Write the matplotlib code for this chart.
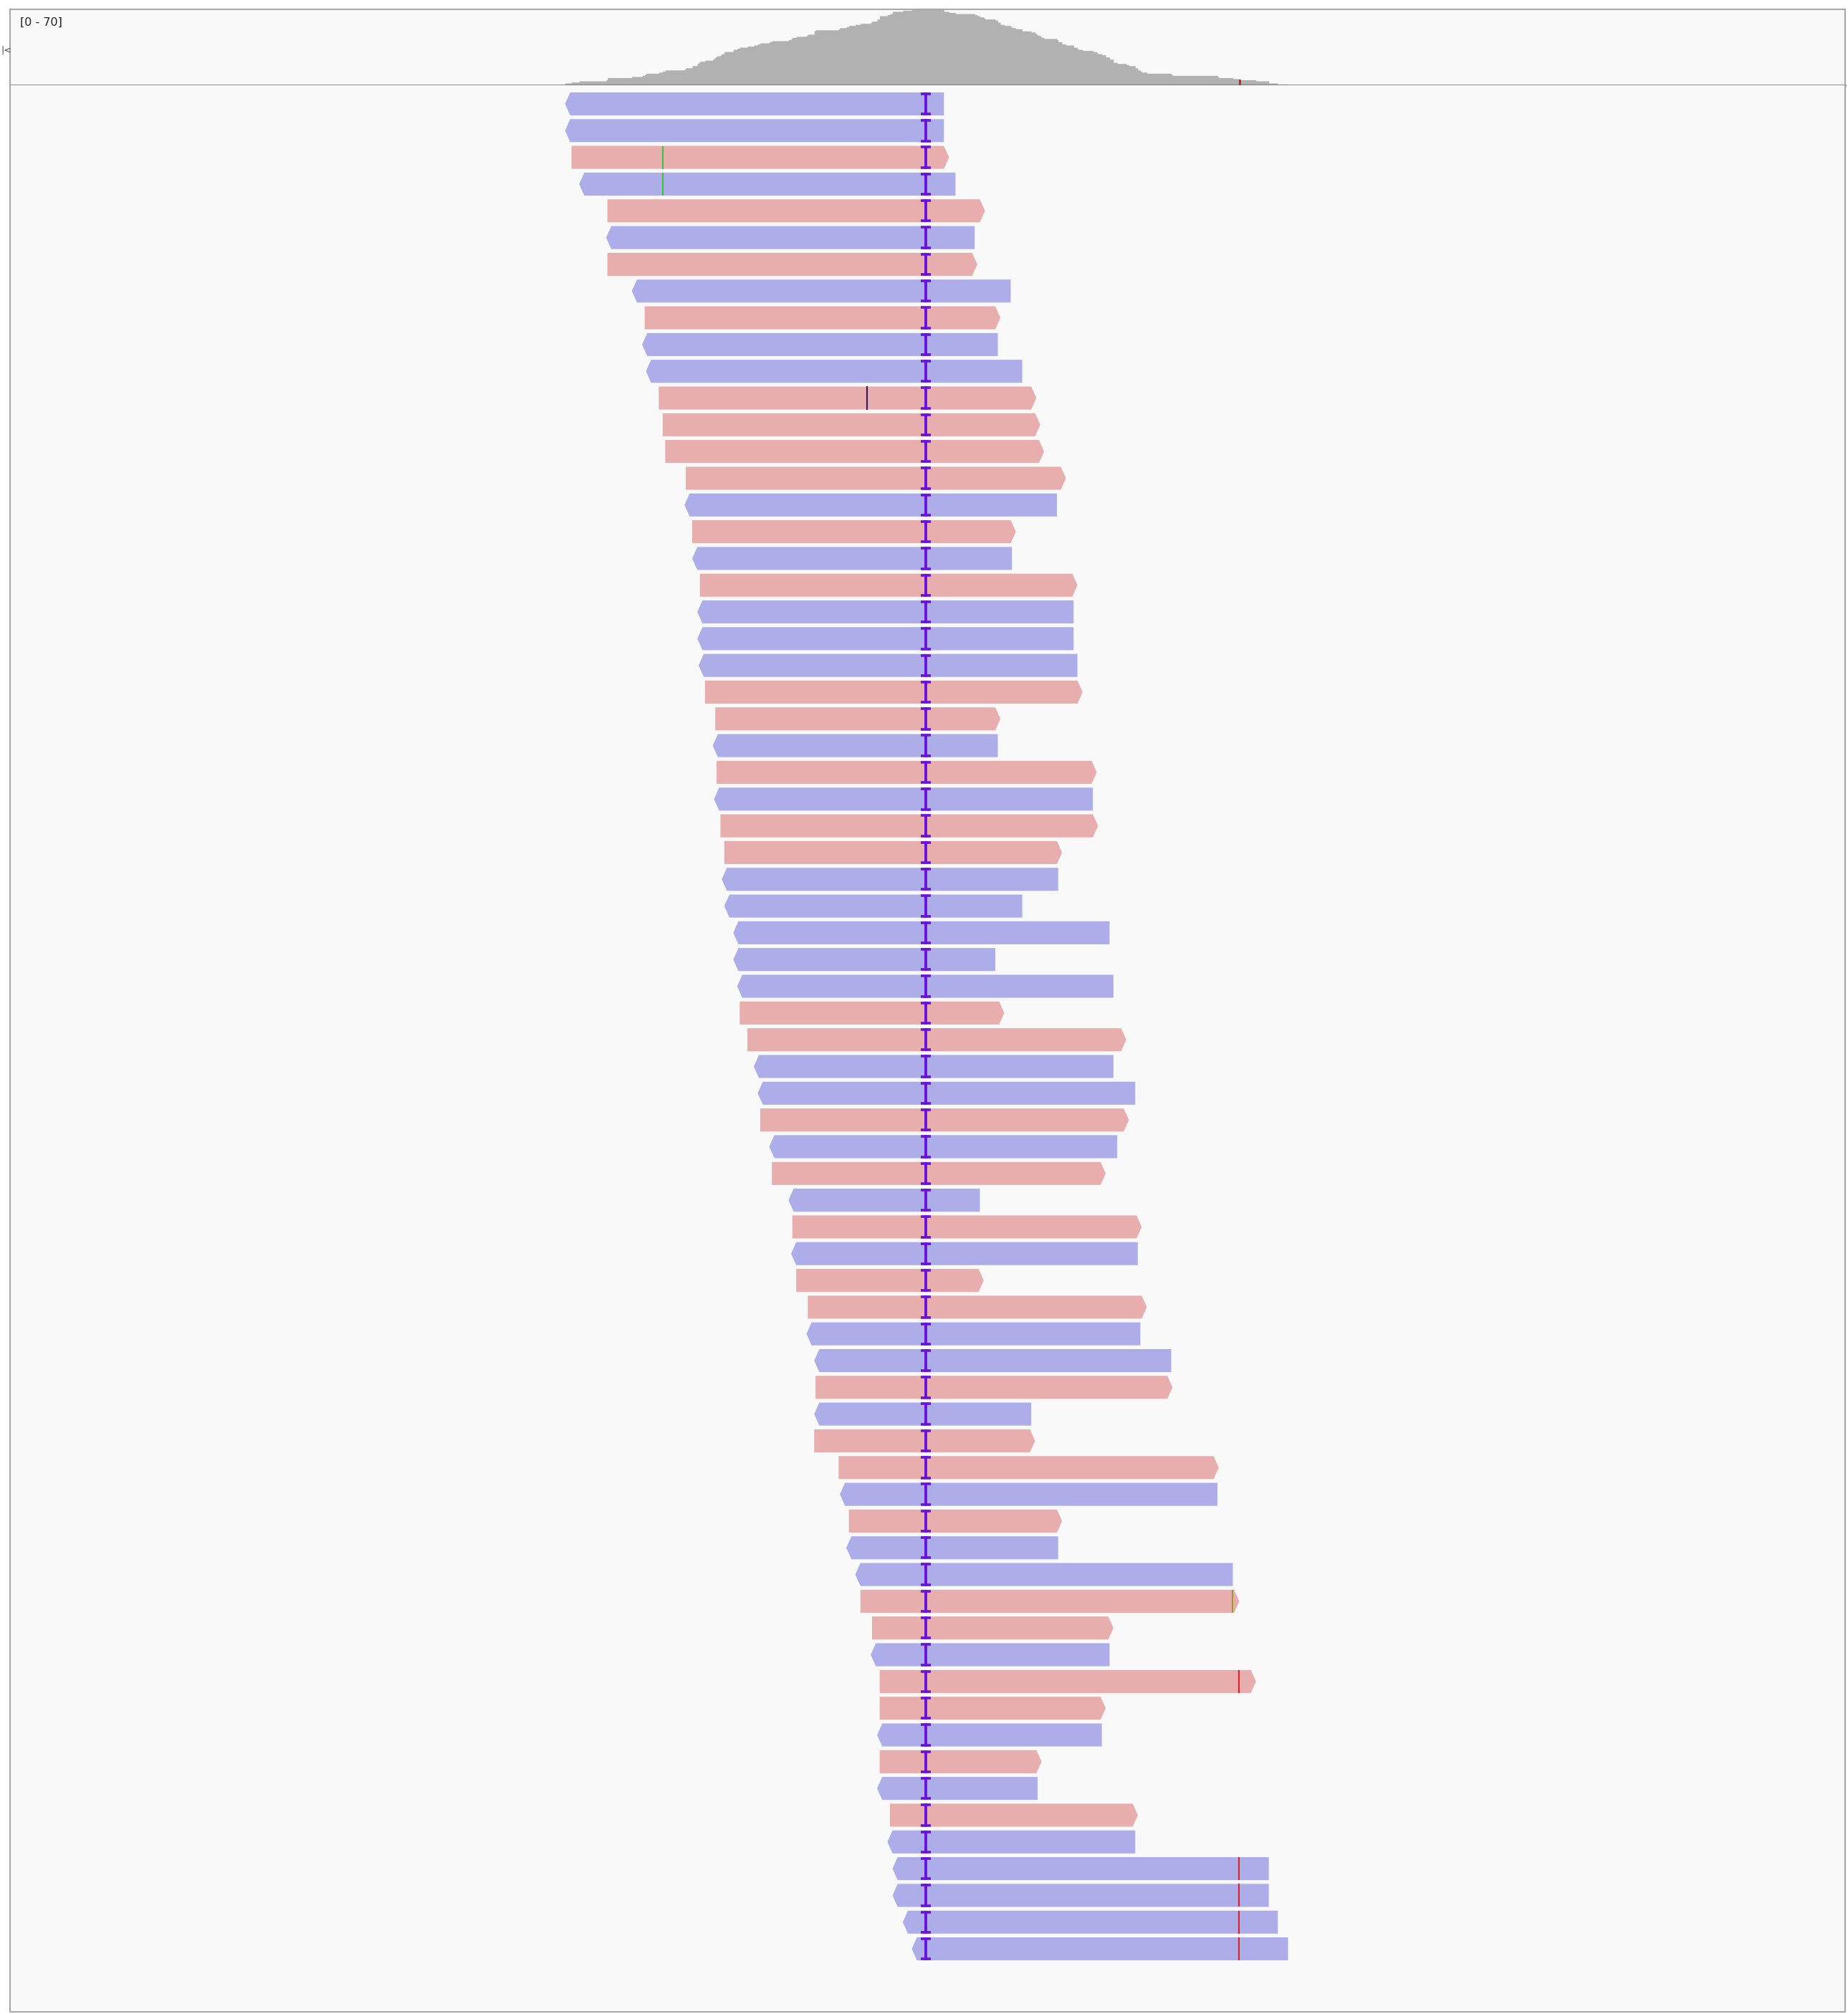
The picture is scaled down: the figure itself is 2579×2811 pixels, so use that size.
import matplotlib
matplotlib.use("Agg")
import matplotlib.pyplot as plt
from matplotlib.patches import Polygon
import numpy as np

# ---- data (positions in bp relative to the insertion site) ----
strand = ['R','R','F','R','F','R','F','R','F','R',
          'R','F','F','F','F','R','F','R','F','R',
          'R','R','F','F','R','F','R','F','F','R',
          'R','R','R','R','F','F','R','R','F','R',
          'F','R','F','R','F','F','R','R','F','R',
          'F','F','R','F','R','R','F','F','R','F',
          'F','R','F','R','F','R','R','R','R','R']
read_start = [-140.5,-140.5,-138,-135,-124,-124.5,-124,-114.5,-109.5,-110.5,
              -109,-104,-102.5,-101.5,-93.5,-94,-91,-91,-88,-89,
              -89,-88.5,-86,-82,-83,-81.5,-82.5,-80,-78.5,-79.5,
              -78.5,-75,-75,-73.5,-72.5,-69.5,-67,-65.5,-64.5,-61,
              -60,-53.5,-52,-52.5,-50.5,-46,-46.5,-43.5,-43,-43.5,
              -43.5,-34,-33.5,-30,-31,-27.5,-25.5,-21,-21.5,-18,
              -18,-19,-18,-19,-14,-15,-13,-13,-9,-5.5]
read_end = [7,7,9,11.5,23,19,20,33,29,28,
            37.5,43,44.5,46,54.5,51,35,33.5,59,57.5,
            57.5,59,61,29,28,66.5,65,67,53,51.5,
            37.5,71.5,27,73,30.5,78,73,81.5,79,74.5,
            70,21,84,82.5,22.5,86,83.5,95.5,96,41,
            42.5,114,113.5,53,51.5,119.5,122,73,71.5,128.5,
            70,68.5,45,43.5,82.5,81.5,133.5,133.5,137,141]
insertion_pos = 0
# mismatches: (row index, position, colour)
mm_rows = [2, 3, 11, 56, 59, 66, 67, 68, 69]
mm_pos = [-102.5, -102.5, -23, 119.5, 122, 122, 122, 122, 122]
mm_col = ['#3cc43c', '#3cc43c', '#3a1858', '#9aa030', '#e0202a',
          '#e0202a', '#e0202a', '#e0202a', '#e0202a']
cov_range = (0, 70)
cov_label = "[0 - 70]"

# ---- figure ----
W, H, DPI = 2579, 2811, 100
fig = plt.figure(figsize=(W / DPI, H / DPI), dpi=DPI, facecolor='white')

def fx(px):
    return px / W

def fy(py):
    return 1 - py / H

x_left_px, x_right_px = 14, 2575
x_lim = (-356.6, 357.9)
frame_col = '#a8a8a8'
bg = '#f9f9f9'

# coverage axes
cov_top, cov_bot = 13, 119
axc = fig.add_axes([fx(x_left_px), fy(cov_bot), fx(x_right_px - x_left_px),
                    (cov_bot - cov_top) / H])
axc.set_facecolor(bg)
pos = np.arange(-160, 160, 0.5)
starts = np.array(read_start)
ends = np.array(read_end)
cov = np.array([np.sum((starts <= p) & (ends > p)) for p in pos])
axc.fill_between(pos, 0, cov, step='post', color='#b1b1b1', linewidth=0)
# mismatch coloring in coverage
mm_cov_pos = 122
n_red = sum(1 for p, c in zip(mm_pos, mm_col) if p == mm_cov_pos and c == '#e0202a')
axc.bar([mm_cov_pos], [n_red], width=0.8, color='#d8202a', align='edge')
axc.set_xlim(*x_lim)
axc.set_ylim(*cov_range)
axc.set_xticks([]); axc.set_yticks([])
for s in ['left', 'right', 'top']:
    axc.spines[s].set_color(frame_col); axc.spines[s].set_linewidth(1.5)
axc.spines['bottom'].set_color('#6a6a6a'); axc.spines['bottom'].set_linewidth(1.8)
axc.text(fx(28), fy(31), cov_label, transform=fig.transFigure, fontsize=11.5,
         color='#202020', va='center', ha='left', family='DejaVu Sans')

# reads axes
rd_top, rd_bot = 119, 2808
axr = fig.add_axes([fx(x_left_px), fy(rd_bot), fx(x_right_px - x_left_px),
                    (rd_bot - rd_top) / H])
axr.set_facecolor(bg)
pitch = 37.32
row0 = 145
y_top = -(row0 - rd_top) / pitch
y_bot = y_top + (rd_bot - rd_top) / pitch
axr.set_xlim(*x_lim)
axr.set_ylim(y_bot, y_top)
axr.set_xticks([]); axr.set_yticks([])
for s in axr.spines.values():
    s.set_color(frame_col); s.set_linewidth(1.5)
axr.spines['top'].set_visible(False)

h = 0.43
a = 2.0
col_F = '#e8adad'
col_R = '#acade9'
for i, (st, s0, e0) in enumerate(zip(strand, read_start, read_end)):
    if st == 'F':
        pts = [(s0, i - h), (e0 - a, i - h), (e0, i), (e0 - a, i + h), (s0, i + h)]
        c = col_F
    else:
        pts = [(s0 + a, i - h), (e0, i - h), (e0, i + h), (s0 + a, i + h), (s0, i)]
        c = col_R
    axr.add_patch(Polygon(pts, closed=True, facecolor=c, edgecolor='none'))

for r, p, c in zip(mm_rows, mm_pos, mm_col):
    axr.plot([p, p], [r - h, r + h], color=c, linewidth=1.5, solid_capstyle='butt')

ins_col = '#6a12dc'
for i in range(len(strand)):
    axr.plot([insertion_pos, insertion_pos], [i - h, i + h], color=ins_col,
             linewidth=2.8, solid_capstyle='butt')
    for yy in (i - h + 0.05, i + h - 0.05):
        axr.plot([insertion_pos - 1.9, insertion_pos + 1.9], [yy, yy], color=ins_col,
                 linewidth=2.6, solid_capstyle='butt')

# small left-edge marker
fig.text(fx(1), fy(70), '|<', fontsize=9, color='#404040', va='center', ha='left')

fig.savefig('out.png', dpi=DPI, facecolor='white')
